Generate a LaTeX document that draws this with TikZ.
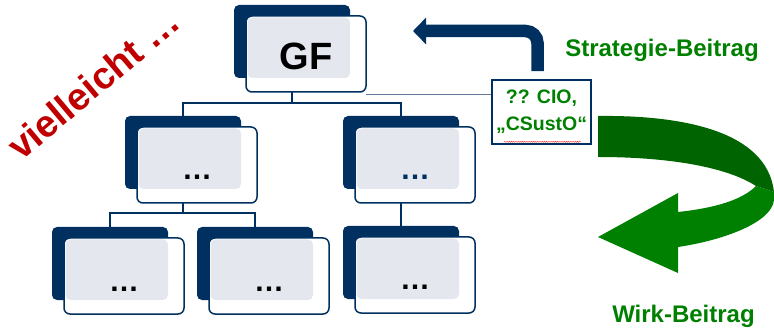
\documentclass[tikz,border=0pt]{standalone}
\usepackage{fontspec}
\setmainfont{Liberation Sans}
\usepackage{xcolor}
\usepackage{tikz}
\usetikzlibrary{arrows.meta,positioning,calc,decorations.pathmorphing}
\definecolor{orgnavy}{RGB}{0,48,96}
\definecolor{boxgray}{RGB}{228,232,238}
\definecolor{darkgr}{RGB}{0,100,0}
\definecolor{lightgr}{RGB}{0,128,0}
\definecolor{vred}{RGB}{192,0,0}
\definecolor{linkgray}{RGB}{100,120,150}

\begin{document}
\begin{tikzpicture}[x=1pt,y=-1pt,
  backbox/.style={fill=orgnavy,rounded corners=5pt,minimum width=116pt,minimum height=73pt,inner sep=0pt,outer sep=0pt},
  frontbox/.style={draw=orgnavy,line width=1.5pt,fill=white,rounded corners=6pt,minimum width=120pt,minimum height=76pt,inner sep=0pt,outer sep=0pt},
  conn/.style={orgnavy,line width=1.6pt},
  dots/.style={font=\bfseries\fontsize{30}{30}\selectfont,inner sep=0pt},
  lbl/.style={font=\bfseries\fontsize{24}{24}\selectfont,text=lightgr,inner sep=0pt}]
  \useasboundingbox (0,0) rectangle (774,331);
  % Org chart boxes: dark back card, white front card, grey overlap
  \foreach \n/\x/\y in {gf/234/5, l1/125/116, r1/343/116, ll/52/227, lm/197/227, rr/343/226}{
    \node[backbox] (\n-b) at (\x+58,\y+36.5) {};
    \node[frontbox] (\n) at (\x+72,\y+49) {};
    \fill[boxgray,rounded corners=5pt] ([shift={(1.5pt,-1.5pt)}]\n.north west) rectangle (\n-b.south east);
  }
  \node[font=\bfseries\fontsize{38}{38}\selectfont,inner sep=0pt] (gf-txt) at ([yshift=-2pt]gf) {GF};
  \foreach \n/\c in {l1/black, r1/orgnavy, ll/black, lm/black, rr/black}{
    \node[dots,text=\c,anchor=base] (\n-dots) at ($(\n)+(0,15)$) {…};
  }
  % Connectors
  \draw[conn] (gf-b.south |- gf.south) -- ++(0,11) coordinate (gfbar);
  \draw[conn] (l1-b.north) |- (gfbar) -| (r1-b.north);
  \draw[conn] (l1-b.south |- l1.south) -- ++(0,10) coordinate (l1bar);
  \draw[conn] (ll-b.north) |- (l1bar) -| (lm-b.north);
  \draw[conn] (r1-b.south |- r1.south) -- (rr-b.north);
  % CIO box
  \node[draw=orgnavy,line width=1.6pt,fill=white,minimum width=99pt,minimum height=64pt,inner sep=0pt,
    align=center,text=lightgr,font=\bfseries\fontsize{19.5}{27}\selectfont] (cio) at (541.5,112)
    {?? CIO,\\„CSustO“};
  \draw[red!80,line width=0.4pt,decorate,decoration={snake,amplitude=0.6pt,segment length=2.2pt}]
    ($(cio.south west)+(13,-3)$) -- ($(cio.south east)+(-11,-3)$);
  \coordinate (tap) at ([yshift=-2pt]gf.south east);
  \draw[linkgray,line width=0.8pt] (tap) -- (tap -| cio.west);
  % Strategie arrow
  \coordinate (stratend) at (413,31);
  \draw[orgnavy,line width=12.5pt,rounded corners=12pt,-{Triangle[length=13pt,width=26pt]}]
    ([xshift=-4pt,yshift=8pt]cio.north) |- (stratend);
  \node[lbl,anchor=base] (strat) at (662,57) {Strategie-Beitrag};
  % Wirk arrow
  \fill[darkgr] (598,116) .. controls (680,115) and (767,130) .. (774,192)
    -- (756,186) .. controls (725,166) and (665,157) .. (598,157) -- cycle;
  \fill[lightgr] (756,186) -- (774,192) -- (774,200) .. controls (772,222) and (725,240) .. (678,247)
    -- (678,273) -- (598,237) -- (678,193) -- (678,212) .. controls (715,208) and (742,200) .. (756,186) -- cycle;
  \node[lbl,anchor=base] (wirk) at (683.5,322) {Wirk-Beitrag};
  % vielleicht
  \node[font=\bfseries\fontsize{38}{38}\selectfont,text=vred,rotate=40,anchor=base west,inner sep=0pt]
    (maybe) at (21,162) {vielleicht …};
\end{tikzpicture}
\end{document}
